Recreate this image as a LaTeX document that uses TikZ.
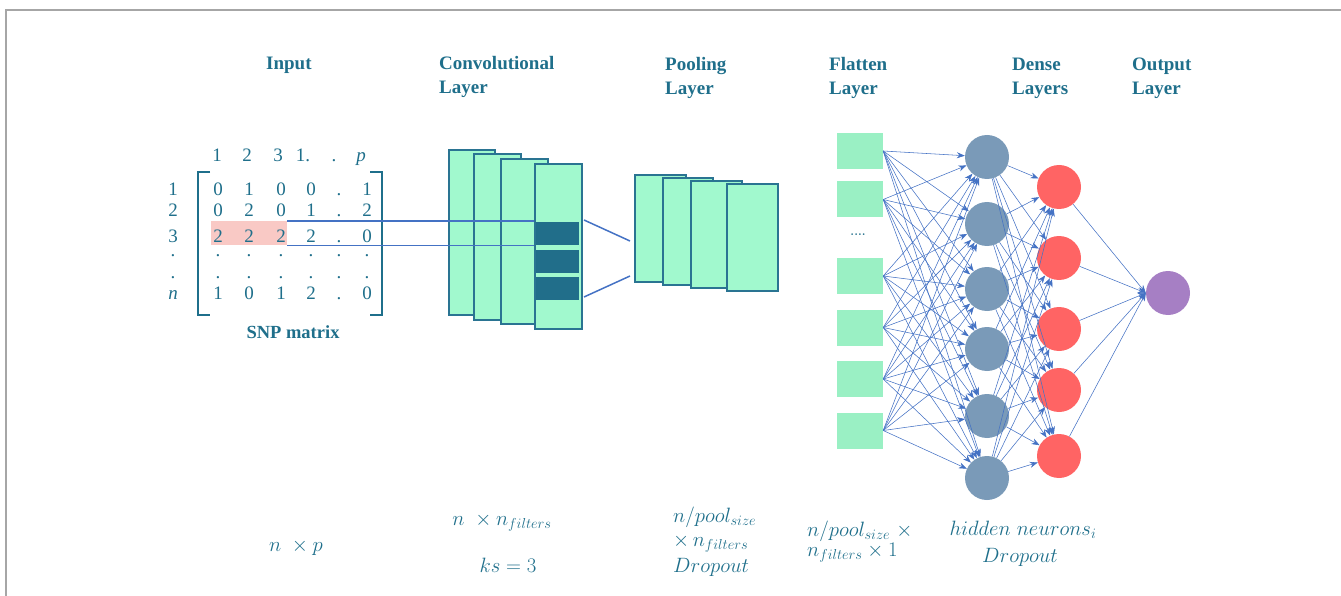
\documentclass[tikz,border=0pt]{standalone}
\usepackage{fontspec}
\newfontfamily\hdrfont{Liberation Serif}
\usetikzlibrary{arrows.meta}
\definecolor{tealtxt}{HTML}{1F6F8B}
\definecolor{convedge}{HTML}{2A7492}
\definecolor{mint}{HTML}{A1F9CE}
\definecolor{flatmint}{HTML}{9AF0C4}
\definecolor{darkband}{HTML}{216E8A}
\definecolor{edgeblue}{HTML}{4472C4}
\definecolor{grayblue}{HTML}{7A9AB8}
\definecolor{redn}{HTML}{FF6464}
\definecolor{purplen}{HTML}{A67FC4}
\definecolor{pinkhl}{HTML}{F9C9C5}
\tikzset{
  hdr/.style={text=tealtxt, font=\hdrfont\bfseries\fontsize{19}{22}\selectfont, anchor=base west, inner sep=0},
  lbl/.style={text=tealtxt, font=\fontsize{20.5}{24}\selectfont, inner sep=0},
  mat/.style={text=tealtxt, font=\hdrfont\fontsize{19}{20}\selectfont, inner sep=0, anchor=base},
  convbox/.style={draw=convedge, line width=1.8pt, fill=mint, anchor=north west, inner sep=0},
  band/.style={fill=darkband, anchor=north west, inner sep=0, minimum width=43, minimum height=23},
  flat/.style={fill=flatmint, minimum width=46, minimum height=36, inner sep=0},
  neuron/.style={circle, minimum size=44, inner sep=0},
  nnedge/.style={draw=edgeblue, line width=0.55pt, -{Stealth[length=8pt,width=6pt]}},
  blueline/.style={draw=edgeblue, line width=1.5pt},
  brk/.style={draw=tealtxt, line width=2.2pt}
}
\begin{document}
\begin{tikzpicture}[x=1pt,y=-1pt]
\useasboundingbox (0,0) rectangle (1341,596);
\draw[gray!70, line width=1.2pt] (1341,10) -- (6,10) -- (6,596);

% headers
\node[hdr] (hin) at (266,70) {Input};
\node[hdr] (hc1) at (439,70) {Convolutional};
\node[hdr] (hc2) at (439,94) {Layer};
\node[hdr] (hp1) at (665,71) {Pooling};
\node[hdr] (hp2) at (665,95) {Layer};
\node[hdr] (hf1) at (829,71) {Flatten};
\node[hdr] (hf2) at (829,95) {Layer};
\node[hdr] (hd1) at (1012,71) {Dense};
\node[hdr] (hd2) at (1012,95) {Layers};
\node[hdr] (ho1) at (1132,71) {Output};
\node[hdr] (ho2) at (1132,95) {Layer};

% highlight
\node[fill=pinkhl, anchor=north west, inner sep=0, minimum width=76, minimum height=24] (hl) at (211,221) {};

% matrix
\node[mat] (ch1) at (217,162) {1};
\node[mat] (ch2) at (247,162) {2};
\node[mat] (ch3) at (278,162) {3};
\node[mat] (ch4) at (303,162) {1.};
\node[mat] (ch5) at (334,162) {.};
\node[mat] (ch6) at (361,162) {\itshape p};
\node[mat] (rl1) at (173,196) {1};
\node[mat] (rl2) at (173,217) {2};
\node[mat] (rl3) at (173,243) {3};
\node[mat] (rl4) at (173,256) {.};
\node[mat] (rl5) at (173,278) {.};
\node[mat] (rl6) at (173,299) {\itshape n};
\foreach \r/\yy/\entries in {1/196/{0,1,0,0,.,1}, 2/217/{0,2,0,1,.,2}, 3/243/{2,2,2,2,.,0}, 4/256/{.,.,.,.,.,.}, 5/278/{.,.,.,.,.,.}, 6/299/{1,0,1,2,.,0}}{
  \foreach \e [count=\c] in \entries {
    \pgfmathsetmacro{\xx}{{218,249,281,311,339,367}[\c-1]}
    \node[mat] (m-\r-\c) at (\xx,\yy) {\e};
  }
}
\draw[brk] (210,172) -- (198,172) -- (198,315) -- (210,315);
\draw[brk] (370,172) -- (382,172) -- (382,315) -- (370,315);
\node[text=tealtxt, font=\hdrfont\bfseries\fontsize{18.5}{22}\selectfont, anchor=base, inner sep=0] (snp) at (293,338) {SNP matrix};

% conv layers
\node[convbox, minimum width=46, minimum height=165] (c1) at (448,149) {};
\node[convbox, minimum width=47, minimum height=166] (c2) at (473,153) {};
\node[convbox, minimum width=47, minimum height=165] (c3) at (500,158) {};
\node[convbox, minimum width=47, minimum height=165] (c4) at (534,163) {};
\node[band] (b1) at (536,222) {};
\node[band] (b2) at (536,250) {};
\node[band] (b3) at (536,277) {};
\draw[blueline] (hl.north east) -- (hl.north east -| c4.west);
\draw[blueline] (hl.south east) -- (hl.south east -| c4.west);

% pooling
\coordinate (pa) at (584,220);
\coordinate (pb) at (630,241);
\coordinate (pc) at (584,297);
\coordinate (pd) at (630,276);
\draw[blueline] (pa) -- (pb);
\draw[blueline] (pc) -- (pd);
\node[convbox, minimum width=51, minimum height=107] (p1) at (634,174) {};
\node[convbox, minimum width=50, minimum height=107] (p2) at (662,177) {};
\node[convbox, minimum width=51, minimum height=107] (p3) at (690,180) {};
\node[convbox, minimum width=51, minimum height=107] (p4) at (726,183) {};

% flatten
\node[flat] (f1) at (860,151) {};
\node[flat] (f2) at (860,199.5) {};
\node[flat] (f3) at (860,276) {};
\node[flat] (f4) at (860,327.5) {};
\node[flat] (f5) at (860,379) {};
\node[flat] (f6) at (860,430.5) {};
\node[text=darkband, font=\bfseries\fontsize{12}{12}\selectfont, inner sep=0] (fdots) at (858,235) {....};

% dense
\node[neuron, fill=grayblue] (a1) at (987,157) {};
\node[neuron, fill=grayblue] (a2) at (987,224) {};
\node[neuron, fill=grayblue] (a3) at (987,289) {};
\node[neuron, fill=grayblue] (a4) at (987,349) {};
\node[neuron, fill=grayblue] (a5) at (987,416) {};
\node[neuron, fill=grayblue] (a6) at (987,478) {};
\node[neuron, fill=redn] (d1) at (1059,187) {};
\node[neuron, fill=redn] (d2) at (1059,258) {};
\node[neuron, fill=redn] (d3) at (1059,329) {};
\node[neuron, fill=redn] (d4) at (1059,390) {};
\node[neuron, fill=redn] (d5) at (1059,456) {};
\node[neuron, fill=purplen] (o) at (1168,293) {};

\foreach \i in {1,...,6}{
  \foreach \j in {1,...,6}{
    \draw[nnedge] (f\i.east) -- (a\j);
  }
}
\foreach \i in {1,...,6}{
  \foreach \j in {1,...,5}{
    \draw[nnedge] (a\i) -- (d\j);
  }
}
\foreach \j in {1,...,5}{
  \draw[nnedge] (d\j) -- (o.west);
}

% bottom labels
\node[lbl] (l1) at (296,547) {$n\ \times p$};
\node[lbl] (l2) at (502,522) {$n\ \times n_{filters}$};
\node[lbl] (l3) at (508,565) {$ks=3$};
\node[lbl, anchor=west] (l4) at (673,517) {$n/pool_{size}$};
\node[lbl, anchor=west] (l5) at (673,543) {$\times\, n_{filters}$};
\node[lbl, anchor=west] (l6) at (673,567) {$Dropout$};
\node[lbl, anchor=west] (l7) at (807,531) {$n/pool_{size}\ \times$};
\node[lbl, anchor=west] (l8) at (807,553) {$n_{filters}\times 1$};
\node[lbl] (l9) at (1023,530) {$hidden\ neurons_i$};
\node[lbl] (l10) at (1020,557) {$Dropout$};
\end{tikzpicture}
\end{document}
